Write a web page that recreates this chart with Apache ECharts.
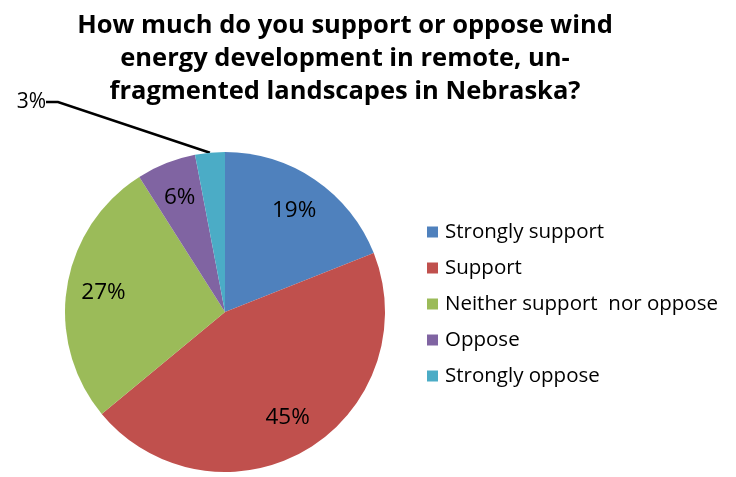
<!DOCTYPE html>
<html><head><meta charset="utf-8">
<script src="https://cdn.jsdelivr.net/npm/echarts@6/dist/echarts.min.js"></script>
<style>html,body{margin:0;padding:0;background:#fff}#c{width:736px;height:477px}</style>
</head><body><div id="c"></div>
<script>
const titleText = 'How much do you support or oppose wind\nenergy development in remote, un-\nfragmented landscapes in Nebraska?';
const categories = ['Strongly support', 'Support', 'Neither support  nor oppose', 'Oppose', 'Strongly oppose'];
const values = [19, 45, 27, 6, 3];
const colors = ['#4F81BD', '#C0504D', '#9BBB59', '#8064A2', '#4BACC6'];
const FONT = '"Open Sans", Lato, sans-serif';

const chart = echarts.init(document.getElementById('c'));
const mainData = categories.map((n, i) => {
  const d = { name: n, value: values[i] };
  if (i === 4) {
    d.label = { show: true, position: 'outside', fontSize: 21, color: '#000', fontFamily: FONT };
    d.labelLine = { show: true, length: 8, length2: 12, lineStyle: { color: '#000', width: 2.5 } };
  }
  return d;
});
const ghostData = categories.map((n, i) => ({ name: n, value: values[i], label: { show: i !== 4 } }));

chart.setOption({
  animation: false,
  color: colors,
  title: {
    text: titleText, left: 340, textAlign: 'center', top: 4,
    textStyle: { fontFamily: FONT, fontWeight: 'bold', fontSize: 25.5, lineHeight: 33, color: '#000' }
  },
  legend: {
    orient: 'vertical', left: 422, top: 216, itemWidth: 11, itemHeight: 11, itemGap: 14,
    icon: 'rect', data: categories,
    textStyle: { fontFamily: FONT, fontSize: 20.5, lineHeight: 22, color: '#000', padding: [0, 0, 0, 2] }
  },
  series: [
    {
      type: 'pie', center: [225, 312], radius: [0, 160], startAngle: 90, clockwise: true,
      data: mainData, label: { show: false, formatter: '{d}%' },
      itemStyle: { borderWidth: 0 },
      labelLayout: function (p) {
        if (p.dataIndex === 4) return { x: 46, y: 102, align: 'right', verticalAlign: 'middle' };
      }
    },
    {
      type: 'pie', center: [225, 312], radius: [80, 160], startAngle: 90, clockwise: true,
      silent: true, legendHoverLink: false,
      data: ghostData,
      itemStyle: { color: 'rgba(0,0,0,0)', borderWidth: 0 },
      label: { position: 'inside', formatter: '{c}%', fontSize: 22.5, color: '#000', fontFamily: FONT },
      labelLine: { show: false }
    }
  ]
});
</script></body></html>
